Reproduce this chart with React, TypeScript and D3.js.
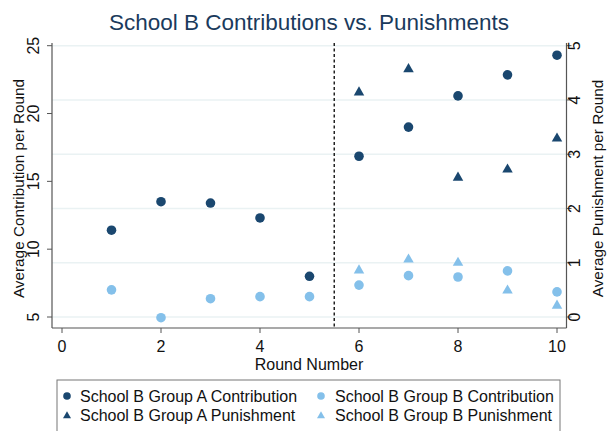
import React from "react";
import * as d3 from "d3";

// Round-level averages for School B
const rounds = [1, 2, 3, 4, 5, 6, 7, 8, 9, 10];
const groupAContribution = [11.4, 13.5, 13.4, 12.3, 8.0, 16.85, 19.0, 21.3, 22.85, 24.3];
const groupBContribution = [7.0, 4.95, 6.35, 6.5, 6.5, 7.35, 8.05, 7.95, 8.4, 6.85];
const punishRounds = [6, 7, 8, 9, 10];
const groupAPunishment = [4.15, 4.58, 2.58, 2.73, 3.3];
const groupBPunishment = [0.87, 1.07, 1.01, 0.5, 0.22];

const xTicks = [0, 2, 4, 6, 8, 10];
const leftTicks = [5, 10, 15, 20, 25];
const rightTicks = [0, 1, 2, 3, 4, 5];
const treatmentStart = 5.5;

const legendItems = [
  { label: "School B Group A Contribution", shape: "circle", color: "#1a476f" },
  { label: "School B Group B Contribution", shape: "circle", color: "#84c0ea" },
  { label: "School B Group A Punishment", shape: "triangle", color: "#1a476f" },
  { label: "School B Group B Punishment", shape: "triangle", color: "#84c0ea" },
];

const DARK = "#1a476f";
const LIGHT = "#84c0ea";
const FONT = "'Liberation Sans', Arial, sans-serif";
const FS = 16;

const W = 609;
const H = 431;
const plot = { left: 52, right: 566.5, top: 43, bottom: 328 };

function triPath(cx: number, cy: number, s: number) {
  const h = s * 0.87;
  return `M${cx},${cy - h * 0.6}L${cx + s / 2},${cy + h * 0.4}L${cx - s / 2},${cy + h * 0.4}Z`;
}

export default function App() {
  const x = d3.scaleLinear().domain([0, 10]).range([62, 557]);
  const yL = d3.scaleLinear().domain([5, 25]).range([317, 45.7]);
  const yR = d3.scaleLinear().domain([0, 5]).range([317, 45.7]);

  return (
    <svg width={W} height={H} style={{ position: "absolute", left: 0, top: 0, background: "#fff" }} fontFamily={FONT}>
      <rect x={0} y={0} width={W} height={H} fill="#fff" />
      <text x={309} y={29.5} textAnchor="middle" fontSize={22.5} fill="#1a3a5c">
        School B Contributions vs. Punishments
      </text>

      {/* horizontal grid from the punishment axis */}
      {rightTicks.map((t) => (
        <line key={"g" + t} x1={plot.left} x2={plot.right} y1={yR(t)} y2={yR(t)} stroke="#eaf2f3" strokeWidth={1.5} />
      ))}

      {/* dashed marker between rounds 5 and 6 */}
      <line x1={x(treatmentStart)} x2={x(treatmentStart)} y1={plot.top} y2={plot.bottom} stroke="#222" strokeWidth={1.5} strokeDasharray="3,2.5" />

      {/* axes */}
      <line x1={plot.left} x2={plot.left} y1={plot.top} y2={plot.bottom} stroke="#555" strokeWidth={1.2} />
      <line x1={plot.right} x2={plot.right} y1={plot.top} y2={plot.bottom} stroke="#555" strokeWidth={1.2} />
      <line x1={plot.left} x2={plot.right} y1={plot.bottom} y2={plot.bottom} stroke="#555" strokeWidth={1.2} />

      {leftTicks.map((t) => (
        <g key={"l" + t}>
          <line x1={plot.left - 5} x2={plot.left} y1={yL(t)} y2={yL(t)} stroke="#555" />
          <text transform={`translate(39,${yL(t)}) rotate(-90)`} textAnchor="middle" fontSize={FS} fill="#111">
            {t}
          </text>
        </g>
      ))}
      {rightTicks.map((t) => (
        <g key={"r" + t}>
          <line x1={plot.right} x2={plot.right + 5} y1={yR(t)} y2={yR(t)} stroke="#555" />
          <text transform={`translate(580,${yR(t)}) rotate(-90)`} textAnchor="middle" fontSize={FS} fill="#111">
            {t}
          </text>
        </g>
      ))}
      {xTicks.map((t) => (
        <g key={"x" + t}>
          <line x1={x(t)} x2={x(t)} y1={plot.bottom} y2={plot.bottom + 5} stroke="#555" />
          <text x={x(t)} y={351.5} textAnchor="middle" fontSize={FS} fill="#111">
            {t}
          </text>
        </g>
      ))}

      <text transform={`translate(24,${(plot.top + plot.bottom) / 2 + 3}) rotate(-90)`} textAnchor="middle" fontSize={15.3} fill="#111">
        Average Contribution per Round
      </text>
      <text transform={`translate(603,${(plot.top + plot.bottom) / 2 + 3}) rotate(-90)`} textAnchor="middle" fontSize={15.3} fill="#111">
        Average Punishment per Round
      </text>
      <text x={309} y={370} textAnchor="middle" fontSize={FS} fill="#111">
        Round Number
      </text>

      {/* markers */}
      {rounds.map((r, i) => (
        <circle key={"ac" + r} cx={x(r)} cy={yL(groupAContribution[i])} r={4.8} fill={DARK} />
      ))}
      {rounds.map((r, i) => (
        <circle key={"bc" + r} cx={x(r)} cy={yL(groupBContribution[i])} r={4.8} fill={LIGHT} />
      ))}
      {punishRounds.map((r, i) => (
        <path key={"ap" + r} d={triPath(x(r), yR(groupAPunishment[i]), 10.5)} fill={DARK} />
      ))}
      {punishRounds.map((r, i) => (
        <path key={"bp" + r} d={triPath(x(r), yR(groupBPunishment[i]), 10.5)} fill={LIGHT} />
      ))}

      {/* legend */}
      <rect x={57} y={380} width={503} height={60} fill="#fff" stroke="#777" strokeWidth={1} />
      {legendItems.map((item, i) => {
        const col = i % 2;
        const row = Math.floor(i / 2);
        const mx = col === 0 ? 67 : 321;
        const my = row === 0 ? 396 : 415;
        return (
          <g key={item.label}>
            {item.shape === "circle" ? (
              <circle cx={mx} cy={my} r={3.8} fill={item.color} />
            ) : (
              <path d={triPath(mx, my + 0.5, 8)} fill={item.color} />
            )}
            <text x={col === 0 ? 80 : 335} y={my + 5.6} fontSize={FS} fill="#111">
              {item.label}
            </text>
          </g>
        );
      })}
    </svg>
  );
}
